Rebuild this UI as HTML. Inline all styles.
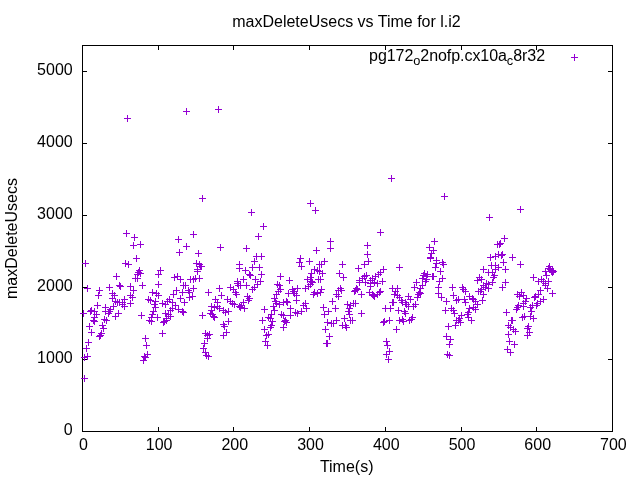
<!DOCTYPE html><html><head><meta charset="utf-8"><title>plot</title><style>html,body{margin:0;padding:0;background:#fff}svg{display:block}text{font-family:"Liberation Sans",sans-serif;font-size:16px;fill:#000}</style></head><body>
<svg width="640" height="480" viewBox="0 0 640 480">
<rect width="640" height="480" fill="#fff"/>
<g stroke="#000" stroke-width="1" fill="none">
<path d="M82.5 431.5v-4.5M82.5 45.5v4.5"/>
<path d="M158.5 431.5v-4.5M158.5 45.5v4.5"/>
<path d="M233.5 431.5v-4.5M233.5 45.5v4.5"/>
<path d="M309.5 431.5v-4.5M309.5 45.5v4.5"/>
<path d="M385.5 431.5v-4.5M385.5 45.5v4.5"/>
<path d="M461.5 431.5v-4.5M461.5 45.5v4.5"/>
<path d="M536.5 431.5v-4.5M536.5 45.5v4.5"/>
<path d="M612.5 431.5v-4.5M612.5 45.5v4.5"/>
<path d="M82.5 431.5h4.5M612.5 431.5h-4.5"/>
<path d="M82.5 359.5h4.5M612.5 359.5h-4.5"/>
<path d="M82.5 287.5h4.5M612.5 287.5h-4.5"/>
<path d="M82.5 215.5h4.5M612.5 215.5h-4.5"/>
<path d="M82.5 143.5h4.5M612.5 143.5h-4.5"/>
<path d="M82.5 71.5h4.5M612.5 71.5h-4.5"/>
<rect x="82.5" y="45.5" width="530.0" height="386.0"/>
</g>
<text x="83.4" y="450" text-anchor="middle">0</text>
<text x="159.1" y="450" text-anchor="middle">100</text>
<text x="234.8" y="450" text-anchor="middle">200</text>
<text x="310.5" y="450" text-anchor="middle">300</text>
<text x="386.3" y="450" text-anchor="middle">400</text>
<text x="462.0" y="450" text-anchor="middle">500</text>
<text x="537.7" y="450" text-anchor="middle">600</text>
<text x="613.4" y="450" text-anchor="middle">700</text>
<text x="72.7" y="435.1" text-anchor="end">0</text>
<text x="72.7" y="363.1" text-anchor="end">1000</text>
<text x="72.7" y="291.1" text-anchor="end">2000</text>
<text x="72.7" y="219.1" text-anchor="end">3000</text>
<text x="72.7" y="147.1" text-anchor="end">4000</text>
<text x="72.7" y="75.1" text-anchor="end">5000</text>
<text x="346.5" y="27" text-anchor="middle">maxDeleteUsecs vs Time for l.i2</text>
<text x="346.7" y="472" text-anchor="middle">Time(s)</text>
<text transform="translate(17.4,238.5) rotate(-90)" text-anchor="middle">maxDeleteUsecs</text>
<text x="545" y="61" text-anchor="end" letter-spacing="-0.06">pg172<tspan dy="3.6" font-size="12.8px">o</tspan><tspan dy="-3.6">2nofp.cx10a</tspan><tspan dy="3.6" font-size="12.8px">c</tspan><tspan dy="-3.6">8r32</tspan></text>
<g stroke="#9400d3" stroke-width="1" fill="none">
<path d="M571.0 57.5h7M574.5 54.0v7M124.0 118.5h7M127.5 115.0v7M183.0 111.5h7M186.5 108.0v7M215.0 109.5h7M218.5 106.0v7M199.0 198.5h7M202.5 195.0v7M123.0 233.5h7M126.5 230.0v7M131.0 237.5h7M134.5 234.0v7M130.0 245.5h7M133.5 242.0v7M137.0 244.5h7M140.5 241.0v7M133.0 258.5h7M136.5 255.0v7M82.0 263.5h7M85.5 260.0v7M122.0 263.5h7M125.5 260.0v7M125.0 264.5h7M128.5 261.0v7M113.0 276.5h7M116.5 273.0v7M84.0 288.5h7M87.5 285.0v7M96.0 290.5h7M99.5 287.0v7M95.0 295.5h7M98.5 292.0v7M106.0 287.5h7M109.5 284.0v7M116.0 285.5h7M119.5 282.0v7M117.0 286.5h7M120.5 283.0v7M127.0 286.5h7M130.5 283.0v7M130.0 290.5h7M133.5 287.0v7M139.0 285.5h7M142.5 282.0v7M155.0 284.5h7M158.5 281.0v7M109.0 293.5h7M112.5 290.0v7M111.0 295.5h7M114.5 292.0v7M109.0 298.5h7M112.5 295.0v7M112.0 301.5h7M115.5 298.0v7M114.0 302.5h7M117.5 299.0v7M116.0 302.5h7M119.5 299.0v7M119.0 302.5h7M122.5 299.0v7M121.0 299.5h7M124.5 296.0v7M127.0 295.5h7M130.5 292.0v7M129.0 297.5h7M132.5 294.0v7M127.0 303.5h7M130.5 300.0v7M119.0 304.5h7M122.5 301.0v7M121.0 306.5h7M124.5 303.0v7M110.0 306.5h7M113.5 303.0v7M94.0 305.5h7M97.5 302.0v7M102.0 307.5h7M105.5 304.0v7M106.0 311.5h7M109.5 308.0v7M105.0 313.5h7M108.5 310.0v7M102.0 311.5h7M105.5 308.0v7M107.0 309.5h7M110.5 306.0v7M115.0 313.5h7M118.5 310.0v7M112.0 316.5h7M115.5 313.0v7M88.0 310.5h7M91.5 307.0v7M87.0 311.5h7M90.5 308.0v7M91.0 311.5h7M94.5 308.0v7M93.0 314.5h7M96.5 311.0v7M91.0 317.5h7M94.5 314.0v7M91.0 321.5h7M94.5 318.0v7M90.0 320.5h7M93.5 317.0v7M80.0 313.5h7M83.5 310.0v7M101.0 319.5h7M104.5 316.0v7M103.0 320.5h7M106.5 317.0v7M86.0 326.5h7M89.5 323.0v7M99.0 325.5h7M102.5 322.0v7M100.0 328.5h7M103.5 325.0v7M88.0 332.5h7M91.5 329.0v7M98.0 333.5h7M101.5 330.0v7M97.0 335.5h7M100.5 332.0v7M138.0 315.5h7M141.5 312.0v7M149.0 292.5h7M152.5 289.0v7M153.0 293.5h7M156.5 290.0v7M145.0 299.5h7M148.5 296.0v7M147.0 300.5h7M150.5 297.0v7M152.0 301.5h7M155.5 298.0v7M151.0 304.5h7M154.5 301.0v7M152.0 307.5h7M155.5 304.0v7M150.0 311.5h7M153.5 308.0v7M149.0 314.5h7M152.5 311.0v7M148.0 317.5h7M151.5 314.0v7M146.0 320.5h7M149.5 317.0v7M148.0 321.5h7M151.5 318.0v7M154.0 317.5h7M157.5 314.0v7M85.0 342.5h7M88.5 339.0v7M83.0 348.5h7M86.5 345.0v7M84.0 356.5h7M87.5 353.0v7M81.0 357.5h7M84.5 354.0v7M81.0 378.5h7M84.5 375.0v7M142.0 338.5h7M145.5 335.0v7M143.0 345.5h7M146.5 342.0v7M144.0 354.5h7M147.5 351.0v7M141.0 356.5h7M144.5 353.0v7M142.0 357.5h7M145.5 354.0v7M140.0 360.5h7M143.5 357.0v7M190.0 234.5h7M193.5 231.0v7M175.0 239.5h7M178.5 236.0v7M183.0 246.5h7M186.5 243.0v7M176.0 252.5h7M179.5 249.0v7M195.0 253.5h7M198.5 250.0v7M217.0 247.5h7M220.5 244.0v7M193.0 263.5h7M196.5 260.0v7M196.0 264.5h7M199.5 261.0v7M197.0 266.5h7M200.5 263.0v7M198.0 266.5h7M201.5 263.0v7M194.0 269.5h7M197.5 266.0v7M194.0 271.5h7M197.5 268.0v7M157.0 270.5h7M160.5 267.0v7M236.0 264.5h7M239.5 261.0v7M236.0 268.5h7M239.5 265.0v7M171.0 277.5h7M174.5 274.0v7M174.0 276.5h7M177.5 273.0v7M177.0 279.5h7M180.5 276.0v7M187.0 279.5h7M190.5 276.0v7M190.0 279.5h7M193.5 276.0v7M192.0 278.5h7M195.5 275.0v7M196.0 278.5h7M199.5 275.0v7M234.0 281.5h7M237.5 278.0v7M180.0 285.5h7M183.5 282.0v7M182.0 285.5h7M185.5 282.0v7M173.0 290.5h7M176.5 287.0v7M170.0 294.5h7M173.5 291.0v7M179.0 292.5h7M182.5 289.0v7M185.0 290.5h7M188.5 287.0v7M186.0 292.5h7M189.5 289.0v7M190.0 288.5h7M193.5 285.0v7M189.0 296.5h7M192.5 293.0v7M186.0 297.5h7M189.5 294.0v7M177.0 298.5h7M180.5 295.0v7M181.0 302.5h7M184.5 299.0v7M166.0 299.5h7M169.5 296.0v7M164.0 301.5h7M167.5 298.0v7M169.0 302.5h7M172.5 299.0v7M159.0 303.5h7M162.5 300.0v7M162.0 304.5h7M165.5 301.0v7M172.0 305.5h7M175.5 302.0v7M169.0 308.5h7M172.5 305.0v7M167.0 310.5h7M170.5 307.0v7M175.0 309.5h7M178.5 306.0v7M179.0 311.5h7M182.5 308.0v7M180.0 312.5h7M183.5 309.0v7M162.0 313.5h7M165.5 310.0v7M165.0 314.5h7M168.5 311.0v7M167.0 316.5h7M170.5 313.0v7M163.0 318.5h7M166.5 315.0v7M161.0 321.5h7M164.5 318.0v7M160.0 322.5h7M163.5 319.0v7M163.0 320.5h7M166.5 317.0v7M159.0 333.5h7M162.5 330.0v7M205.0 292.5h7M208.5 289.0v7M199.0 315.5h7M202.5 312.0v7M216.0 288.5h7M219.5 285.0v7M218.0 295.5h7M221.5 292.0v7M212.0 299.5h7M215.5 296.0v7M214.0 302.5h7M217.5 299.0v7M208.0 306.5h7M211.5 303.0v7M211.0 307.5h7M214.5 304.0v7M214.0 306.5h7M217.5 303.0v7M216.0 308.5h7M219.5 305.0v7M207.0 313.5h7M210.5 310.0v7M209.0 314.5h7M212.5 311.0v7M210.0 316.5h7M213.5 313.0v7M211.0 317.5h7M214.5 314.0v7M208.0 310.5h7M211.5 307.0v7M220.0 310.5h7M223.5 307.0v7M222.0 312.5h7M225.5 309.0v7M225.0 311.5h7M228.5 308.0v7M227.0 287.5h7M230.5 284.0v7M230.0 289.5h7M233.5 286.0v7M234.0 283.5h7M237.5 280.0v7M235.0 285.5h7M238.5 282.0v7M232.0 292.5h7M235.5 289.0v7M233.0 294.5h7M236.5 291.0v7M224.0 299.5h7M227.5 296.0v7M227.0 301.5h7M230.5 298.0v7M229.0 303.5h7M232.5 300.0v7M231.0 304.5h7M234.5 301.0v7M236.0 306.5h7M239.5 303.0v7M225.0 321.5h7M228.5 318.0v7M220.0 324.5h7M223.5 321.0v7M221.0 326.5h7M224.5 323.0v7M223.0 332.5h7M226.5 329.0v7M220.0 335.5h7M223.5 332.0v7M202.0 333.5h7M205.5 330.0v7M204.0 335.5h7M207.5 332.0v7M206.0 334.5h7M209.5 331.0v7M204.0 338.5h7M207.5 335.0v7M201.0 343.5h7M204.5 340.0v7M200.0 348.5h7M203.5 345.0v7M202.0 352.5h7M205.5 349.0v7M203.0 355.5h7M206.5 352.0v7M205.0 356.5h7M208.5 353.0v7M260.0 226.5h7M263.5 223.0v7M255.0 236.5h7M258.5 233.0v7M243.0 248.5h7M246.5 245.0v7M253.0 256.5h7M256.5 253.0v7M258.0 256.5h7M261.5 253.0v7M251.0 261.5h7M254.5 258.0v7M249.0 267.5h7M252.5 264.0v7M256.0 267.5h7M259.5 264.0v7M242.0 270.5h7M245.5 267.0v7M258.0 274.5h7M261.5 271.0v7M246.0 274.5h7M249.5 271.0v7M247.0 275.5h7M250.5 272.0v7M240.0 279.5h7M243.5 276.0v7M252.0 279.5h7M255.5 276.0v7M257.0 281.5h7M260.5 278.0v7M277.0 276.5h7M280.5 273.0v7M286.0 280.5h7M289.5 277.0v7M297.0 258.5h7M300.5 255.0v7M296.0 262.5h7M299.5 259.0v7M298.0 266.5h7M301.5 263.0v7M306.0 261.5h7M309.5 258.0v7M313.0 250.5h7M316.5 247.0v7M311.0 269.5h7M314.5 266.0v7M314.0 270.5h7M317.5 267.0v7M316.0 271.5h7M319.5 268.0v7M308.0 273.5h7M311.5 270.0v7M307.0 277.5h7M310.5 274.0v7M304.0 279.5h7M307.5 276.0v7M315.0 279.5h7M318.5 276.0v7M308.0 281.5h7M311.5 278.0v7M316.0 264.5h7M319.5 261.0v7M237.0 285.5h7M240.5 282.0v7M243.0 285.5h7M246.5 282.0v7M254.0 284.5h7M257.5 281.0v7M251.0 287.5h7M254.5 284.0v7M249.0 289.5h7M252.5 286.0v7M244.0 296.5h7M247.5 293.0v7M246.0 298.5h7M249.5 295.0v7M245.0 300.5h7M248.5 297.0v7M240.0 302.5h7M243.5 299.0v7M238.0 305.5h7M241.5 302.0v7M241.0 308.5h7M244.5 305.0v7M237.0 307.5h7M240.5 304.0v7M274.0 284.5h7M277.5 281.0v7M276.0 285.5h7M279.5 282.0v7M277.0 289.5h7M280.5 286.0v7M275.0 291.5h7M278.5 288.0v7M273.0 294.5h7M276.5 291.0v7M271.0 298.5h7M274.5 295.0v7M272.0 301.5h7M275.5 298.0v7M273.0 303.5h7M276.5 300.0v7M276.0 304.5h7M279.5 301.0v7M280.0 302.5h7M283.5 299.0v7M283.0 301.5h7M286.5 298.0v7M284.0 302.5h7M287.5 299.0v7M270.0 306.5h7M273.5 303.0v7M271.0 310.5h7M274.5 307.0v7M261.0 309.5h7M264.5 306.0v7M268.0 314.5h7M271.5 311.0v7M265.0 317.5h7M268.5 314.0v7M267.0 318.5h7M270.5 315.0v7M259.0 320.5h7M262.5 317.0v7M269.0 321.5h7M272.5 318.0v7M268.0 325.5h7M271.5 322.0v7M267.0 327.5h7M270.5 324.0v7M261.0 329.5h7M264.5 326.0v7M263.0 335.5h7M266.5 332.0v7M265.0 334.5h7M268.5 331.0v7M278.0 314.5h7M281.5 311.0v7M280.0 315.5h7M283.5 312.0v7M282.0 320.5h7M285.5 317.0v7M283.0 322.5h7M286.5 319.0v7M281.0 321.5h7M284.5 318.0v7M280.0 327.5h7M283.5 324.0v7M287.0 308.5h7M290.5 305.0v7M287.0 315.5h7M290.5 312.0v7M285.0 293.5h7M288.5 290.0v7M289.0 289.5h7M292.5 286.0v7M290.0 291.5h7M293.5 288.0v7M291.0 293.5h7M294.5 290.0v7M294.0 288.5h7M297.5 285.0v7M293.0 295.5h7M296.5 292.0v7M293.0 300.5h7M296.5 297.0v7M302.0 288.5h7M305.5 285.0v7M305.0 286.5h7M308.5 283.0v7M307.0 284.5h7M310.5 281.0v7M309.0 282.5h7M312.5 279.0v7M311.0 292.5h7M314.5 289.0v7M310.0 294.5h7M313.5 291.0v7M314.0 293.5h7M317.5 290.0v7M302.0 303.5h7M305.5 300.0v7M300.0 305.5h7M303.5 302.0v7M303.0 308.5h7M306.5 305.0v7M298.0 311.5h7M301.5 308.0v7M294.0 313.5h7M297.5 310.0v7M292.0 312.5h7M295.5 309.0v7M262.0 341.5h7M265.5 338.0v7M264.0 345.5h7M267.5 342.0v7M377.0 232.5h7M380.5 229.0v7M327.0 241.5h7M330.5 238.0v7M327.0 248.5h7M330.5 245.0v7M364.0 245.5h7M367.5 242.0v7M364.0 254.5h7M367.5 251.0v7M365.0 261.5h7M368.5 258.0v7M361.0 264.5h7M364.5 261.0v7M355.0 268.5h7M358.5 265.0v7M321.0 261.5h7M324.5 258.0v7M318.0 264.5h7M321.5 261.0v7M319.0 273.5h7M322.5 270.0v7M317.0 279.5h7M320.5 276.0v7M339.0 264.5h7M342.5 261.0v7M336.0 273.5h7M339.5 270.0v7M340.0 277.5h7M343.5 274.0v7M380.0 269.5h7M383.5 266.0v7M377.0 272.5h7M380.5 269.0v7M375.0 274.5h7M378.5 271.0v7M372.0 276.5h7M375.5 273.0v7M369.0 278.5h7M372.5 275.0v7M367.0 280.5h7M370.5 277.0v7M363.0 275.5h7M366.5 272.0v7M361.0 276.5h7M364.5 273.0v7M359.0 278.5h7M362.5 275.0v7M356.0 280.5h7M359.5 277.0v7M379.0 281.5h7M382.5 278.0v7M396.0 267.5h7M399.5 264.0v7M356.0 282.5h7M359.5 279.0v7M362.0 282.5h7M365.5 279.0v7M367.0 283.5h7M370.5 280.0v7M371.0 282.5h7M374.5 279.0v7M374.0 283.5h7M377.5 280.0v7M367.0 286.5h7M370.5 283.0v7M318.0 289.5h7M321.5 286.0v7M317.0 292.5h7M320.5 289.0v7M337.0 288.5h7M340.5 285.0v7M338.0 290.5h7M341.5 287.0v7M335.0 290.5h7M338.5 287.0v7M333.0 294.5h7M336.5 291.0v7M335.0 296.5h7M338.5 293.0v7M353.0 288.5h7M356.5 285.0v7M354.0 289.5h7M357.5 286.0v7M351.0 291.5h7M354.5 288.0v7M352.0 290.5h7M355.5 287.0v7M358.0 294.5h7M361.5 291.0v7M366.0 292.5h7M369.5 289.0v7M369.0 294.5h7M372.5 291.0v7M370.0 295.5h7M373.5 292.0v7M371.0 296.5h7M374.5 293.0v7M374.0 294.5h7M377.5 291.0v7M377.0 291.5h7M380.5 288.0v7M376.0 292.5h7M379.5 289.0v7M389.0 288.5h7M392.5 285.0v7M394.0 288.5h7M397.5 285.0v7M392.0 291.5h7M395.5 288.0v7M391.0 294.5h7M394.5 291.0v7M394.0 295.5h7M397.5 292.0v7M396.0 297.5h7M399.5 294.0v7M390.0 302.5h7M393.5 299.0v7M389.0 302.5h7M392.5 299.0v7M382.0 308.5h7M385.5 305.0v7M387.0 308.5h7M390.5 305.0v7M395.0 310.5h7M398.5 307.0v7M329.0 301.5h7M332.5 298.0v7M320.0 307.5h7M323.5 304.0v7M325.0 311.5h7M328.5 308.0v7M321.0 314.5h7M324.5 311.0v7M332.0 308.5h7M335.5 305.0v7M344.0 304.5h7M347.5 301.0v7M347.0 305.5h7M350.5 302.0v7M350.0 303.5h7M353.5 300.0v7M352.0 303.5h7M355.5 300.0v7M346.0 308.5h7M349.5 305.0v7M345.0 311.5h7M348.5 308.0v7M346.0 314.5h7M349.5 311.0v7M341.0 318.5h7M344.5 315.0v7M349.0 320.5h7M352.5 317.0v7M347.0 320.5h7M350.5 317.0v7M339.0 325.5h7M342.5 322.0v7M342.0 325.5h7M345.5 322.0v7M343.0 327.5h7M346.5 324.0v7M358.0 313.5h7M361.5 310.0v7M333.0 320.5h7M336.5 317.0v7M324.0 322.5h7M327.5 319.0v7M328.0 323.5h7M331.5 320.0v7M330.0 323.5h7M333.5 320.0v7M322.0 329.5h7M325.5 326.0v7M326.0 336.5h7M329.5 333.0v7M386.0 320.5h7M389.5 317.0v7M381.0 321.5h7M384.5 318.0v7M380.0 322.5h7M383.5 319.0v7M393.0 329.5h7M396.5 326.0v7M396.0 320.5h7M399.5 317.0v7M323.0 343.5h7M326.5 340.0v7M324.0 343.5h7M327.5 340.0v7M383.0 341.5h7M386.5 338.0v7M384.0 345.5h7M387.5 342.0v7M386.0 351.5h7M389.5 348.0v7M383.0 354.5h7M386.5 351.0v7M385.0 359.5h7M388.5 356.0v7M431.0 241.5h7M434.5 238.0v7M426.0 247.5h7M429.5 244.0v7M430.0 250.5h7M433.5 247.0v7M428.0 253.5h7M431.5 250.0v7M427.0 257.5h7M430.5 254.0v7M427.0 258.5h7M430.5 255.0v7M433.0 260.5h7M436.5 257.0v7M439.0 262.5h7M442.5 259.0v7M440.0 264.5h7M443.5 261.0v7M433.0 263.5h7M436.5 260.0v7M432.0 267.5h7M435.5 264.0v7M437.0 271.5h7M440.5 268.0v7M439.0 278.5h7M442.5 275.0v7M436.0 281.5h7M439.5 278.0v7M430.0 276.5h7M433.5 273.0v7M429.0 276.5h7M432.5 273.0v7M421.0 273.5h7M424.5 270.0v7M420.0 275.5h7M423.5 272.0v7M423.0 276.5h7M426.5 273.0v7M424.0 274.5h7M427.5 271.0v7M419.0 278.5h7M422.5 275.0v7M423.0 279.5h7M426.5 276.0v7M474.0 280.5h7M477.5 277.0v7M476.0 277.5h7M479.5 274.0v7M413.0 282.5h7M416.5 279.0v7M419.0 285.5h7M422.5 282.0v7M411.0 287.5h7M414.5 284.0v7M417.0 288.5h7M420.5 285.0v7M435.0 287.5h7M438.5 284.0v7M449.0 287.5h7M452.5 284.0v7M459.0 287.5h7M462.5 284.0v7M460.0 289.5h7M463.5 286.0v7M462.0 291.5h7M465.5 288.0v7M475.0 291.5h7M478.5 288.0v7M416.0 292.5h7M419.5 289.0v7M417.0 293.5h7M420.5 290.0v7M415.0 294.5h7M418.5 291.0v7M414.0 297.5h7M417.5 294.0v7M405.0 296.5h7M408.5 293.0v7M407.0 299.5h7M410.5 296.0v7M398.0 300.5h7M401.5 297.0v7M399.0 302.5h7M402.5 299.0v7M402.0 302.5h7M405.5 299.0v7M403.0 304.5h7M406.5 301.0v7M405.0 306.5h7M408.5 303.0v7M412.0 304.5h7M415.5 301.0v7M410.0 306.5h7M413.5 303.0v7M401.0 311.5h7M404.5 308.0v7M402.0 313.5h7M405.5 310.0v7M409.0 317.5h7M412.5 314.0v7M408.0 319.5h7M411.5 316.0v7M406.0 320.5h7M409.5 317.0v7M399.0 319.5h7M402.5 316.0v7M400.0 321.5h7M403.5 318.0v7M435.0 293.5h7M438.5 290.0v7M438.0 297.5h7M441.5 294.0v7M443.0 301.5h7M446.5 298.0v7M450.0 295.5h7M453.5 292.0v7M453.0 300.5h7M456.5 297.0v7M455.0 299.5h7M458.5 296.0v7M461.0 299.5h7M464.5 296.0v7M462.0 302.5h7M465.5 299.0v7M466.0 296.5h7M469.5 293.0v7M469.0 298.5h7M472.5 295.0v7M470.0 299.5h7M473.5 296.0v7M472.0 301.5h7M475.5 298.0v7M474.0 304.5h7M477.5 301.0v7M470.0 307.5h7M473.5 304.0v7M472.0 309.5h7M475.5 306.0v7M466.0 308.5h7M469.5 305.0v7M465.0 312.5h7M468.5 309.0v7M464.0 314.5h7M467.5 311.0v7M465.0 317.5h7M468.5 314.0v7M468.0 320.5h7M471.5 317.0v7M442.0 310.5h7M445.5 307.0v7M448.0 308.5h7M451.5 305.0v7M450.0 310.5h7M453.5 307.0v7M451.0 313.5h7M454.5 310.0v7M458.0 315.5h7M461.5 312.0v7M456.0 318.5h7M459.5 315.0v7M453.0 320.5h7M456.5 317.0v7M455.0 320.5h7M458.5 317.0v7M457.0 322.5h7M460.5 319.0v7M452.0 325.5h7M455.5 322.0v7M445.0 326.5h7M448.5 323.0v7M443.0 336.5h7M446.5 333.0v7M447.0 339.5h7M450.5 336.0v7M446.0 344.5h7M449.5 341.0v7M444.0 354.5h7M447.5 351.0v7M446.0 355.5h7M449.5 352.0v7M501.0 238.5h7M504.5 235.0v7M497.0 243.5h7M500.5 240.0v7M494.0 244.5h7M497.5 241.0v7M496.0 244.5h7M499.5 241.0v7M495.0 254.5h7M498.5 251.0v7M499.0 254.5h7M502.5 251.0v7M498.0 255.5h7M501.5 252.0v7M492.0 256.5h7M495.5 253.0v7M487.0 257.5h7M490.5 254.0v7M509.0 257.5h7M512.5 254.0v7M500.0 262.5h7M503.5 259.0v7M517.0 264.5h7M520.5 261.0v7M488.0 265.5h7M491.5 262.0v7M492.0 265.5h7M495.5 262.0v7M495.0 267.5h7M498.5 264.0v7M492.0 269.5h7M495.5 266.0v7M502.0 269.5h7M505.5 266.0v7M480.0 269.5h7M483.5 266.0v7M485.0 272.5h7M488.5 269.0v7M489.0 272.5h7M492.5 269.0v7M491.0 275.5h7M494.5 272.0v7M490.0 277.5h7M493.5 274.0v7M478.0 279.5h7M481.5 276.0v7M483.0 283.5h7M486.5 280.0v7M502.0 282.5h7M505.5 279.0v7M530.0 277.5h7M533.5 274.0v7M546.0 266.5h7M549.5 263.0v7M547.0 269.5h7M550.5 266.0v7M549.0 270.5h7M552.5 267.0v7M550.0 271.5h7M553.5 268.0v7M542.0 271.5h7M545.5 268.0v7M543.0 275.5h7M546.5 272.0v7M538.0 279.5h7M541.5 276.0v7M535.0 281.5h7M538.5 278.0v7M540.0 281.5h7M543.5 278.0v7M545.0 281.5h7M548.5 278.0v7M489.0 282.5h7M492.5 279.0v7M499.0 287.5h7M502.5 284.0v7M485.0 284.5h7M488.5 281.0v7M480.0 285.5h7M483.5 282.0v7M482.0 287.5h7M485.5 284.0v7M485.0 288.5h7M488.5 285.0v7M478.0 289.5h7M481.5 286.0v7M477.0 291.5h7M480.5 288.0v7M480.0 294.5h7M483.5 291.0v7M479.0 300.5h7M482.5 297.0v7M518.0 292.5h7M521.5 289.0v7M514.0 294.5h7M517.5 291.0v7M516.0 296.5h7M519.5 293.0v7M520.0 295.5h7M523.5 292.0v7M523.0 298.5h7M526.5 295.0v7M522.0 301.5h7M525.5 298.0v7M520.0 303.5h7M523.5 300.0v7M515.0 305.5h7M518.5 302.0v7M514.0 307.5h7M517.5 304.0v7M513.0 309.5h7M516.5 306.0v7M520.0 306.5h7M523.5 303.0v7M503.0 312.5h7M506.5 309.0v7M509.0 320.5h7M512.5 317.0v7M508.0 320.5h7M511.5 317.0v7M505.0 325.5h7M508.5 322.0v7M507.0 327.5h7M510.5 324.0v7M510.0 329.5h7M513.5 326.0v7M512.0 331.5h7M515.5 328.0v7M505.0 334.5h7M508.5 331.0v7M519.0 317.5h7M522.5 314.0v7M521.0 316.5h7M524.5 313.0v7M527.0 316.5h7M530.5 313.0v7M530.0 318.5h7M533.5 315.0v7M528.0 311.5h7M531.5 308.0v7M527.0 307.5h7M530.5 304.0v7M529.0 305.5h7M532.5 302.0v7M533.0 305.5h7M536.5 302.0v7M534.0 303.5h7M537.5 300.0v7M537.0 301.5h7M540.5 298.0v7M540.0 299.5h7M543.5 296.0v7M531.0 297.5h7M534.5 294.0v7M532.0 296.5h7M535.5 293.0v7M535.0 294.5h7M538.5 291.0v7M537.0 290.5h7M540.5 287.0v7M544.0 288.5h7M547.5 285.0v7M549.0 293.5h7M552.5 290.0v7M542.0 285.5h7M545.5 282.0v7M542.0 283.5h7M545.5 280.0v7M525.0 326.5h7M528.5 323.0v7M524.0 328.5h7M527.5 325.0v7M526.0 332.5h7M529.5 329.0v7M524.0 335.5h7M527.5 332.0v7M506.0 341.5h7M509.5 338.0v7M511.0 344.5h7M514.5 341.0v7M504.0 349.5h7M507.5 346.0v7M507.0 352.5h7M510.5 349.0v7M136.0 270.5h7M139.5 267.0v7M135.0 272.5h7M138.5 269.0v7M137.0 273.5h7M140.5 270.0v7M134.0 274.5h7M137.5 271.0v7M132.0 278.5h7M135.5 275.0v7M134.0 278.5h7M137.5 275.0v7M155.0 274.5h7M158.5 271.0v7M96.0 336.5h7M99.5 333.0v7M155.0 295.5h7M158.5 292.0v7M307.0 203.5h7M310.5 200.0v7M312.0 210.5h7M315.5 207.0v7M248.0 212.5h7M251.5 209.0v7M388.0 178.5h7M391.5 175.0v7M441.0 196.5h7M444.5 193.0v7M422.0 281.5h7M425.5 278.0v7M517.0 209.5h7M520.5 206.0v7M486.0 217.5h7M489.5 214.0v7M545.0 268.5h7M548.5 265.0v7M548.0 271.5h7M551.5 268.0v7M549.0 272.5h7M552.5 269.0v7"/>
</g>
</svg></body></html>
